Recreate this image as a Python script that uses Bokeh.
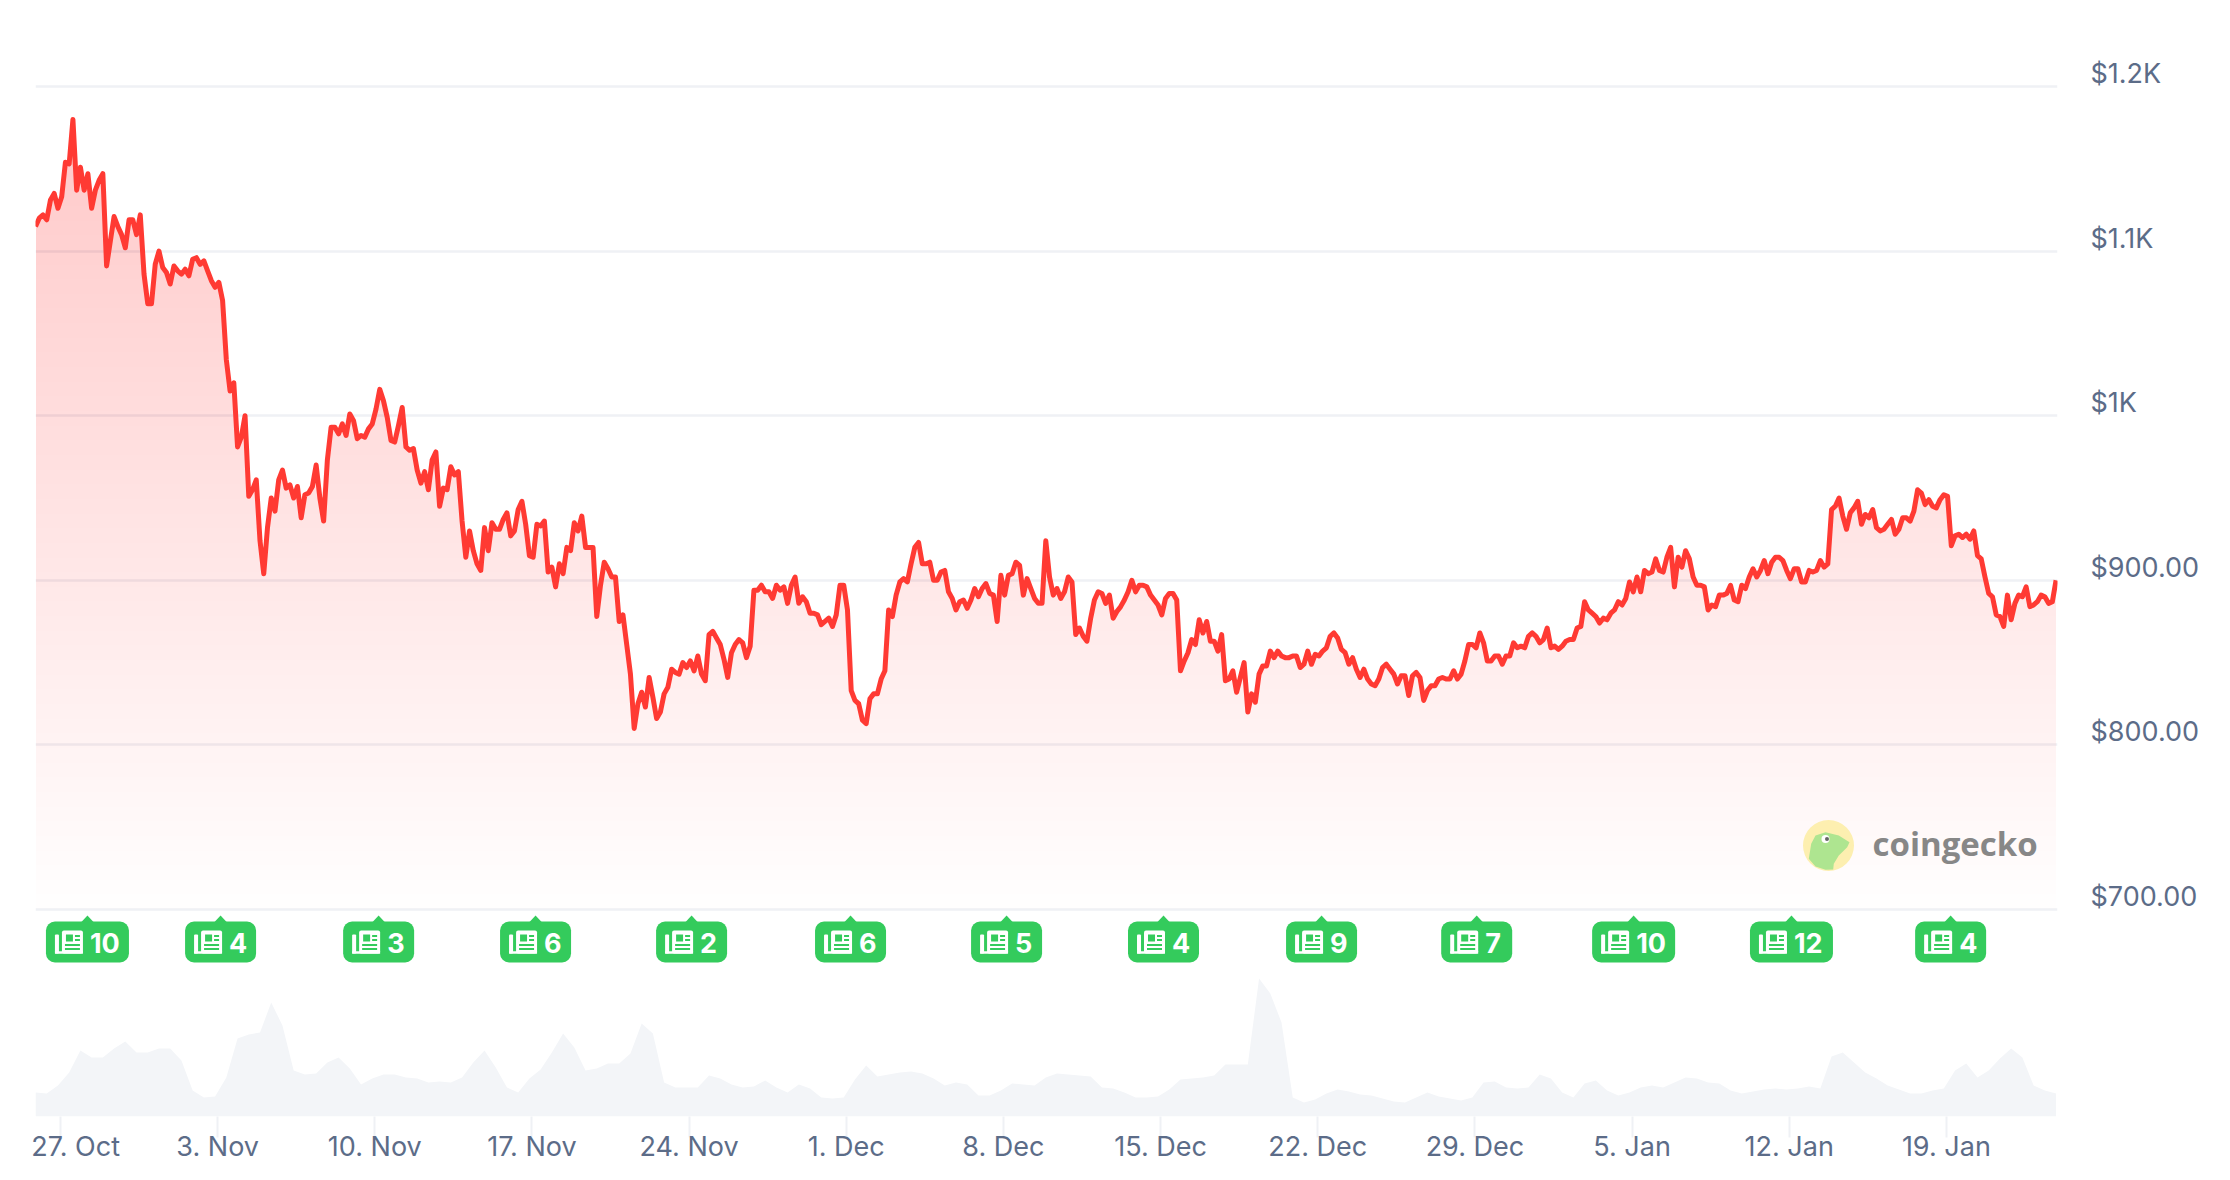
import numpy as np
from bokeh.plotting import figure
from bokeh.models import Range1d, LinearAxis, FixedTicker
from bokeh.core.properties import value
from bokeh.embed import file_html
from bokeh.resources import INLINE

# price in USD, one reading every 4 hours
price_oct_nov_a = [1115,1120,1122,1119,1131,1135,1126,1133,1154,1153,1180,1137,1151,1137,1147,1126,1137,1143,1147,1091,1106,1121,1115,1110,1102,1119,1119,1110,1122,1086,1068,1068,1092,1100,1090,1087,1080,1091,1088,1086,1089,1085,1095,1096,1092,1094,1088,1082,1078,1081,1070,1034,1015,1020,981,987,1000]
price_nov_b = [951,955,961,924,904,932,950,942,961,967,956,958,950,957,938,952,953,957,970,950,936,973,993,993,989,995,988,1001,997,986,988,987,992,995,1004,1016,1009,999,985,984,994,1005,981,979,980,967,959,966,955,973,978,945,956,955,969,964,966,936,914,930,918,910,906,932,918,935,931,931,937,941,927,930,943,948,934,915,914,934,933,936,905,908,896,910,904,920,918,935,930,939,920,920,920,878,897,911,907,902,902,875,879,861,843,810]
price_nov_dec = [825,832,823,841,829,816,820,831,835,846,844,843,850,847,851,845,854,843,839,867,869,865,861,852,841,856,861,864,862,853,860,894,894,897,893,893,889,897,894,896,886,897,902,886,890,887,880,880,879,873,875,877,872,879,897,897,882,833,827,825,815,813,828,831,831,840,845,882,878,891,899,901,899,910,920,923,910,910,911,900,900,905,906,893,889,882,887,888,883,888,895,890,895,898,892,891,875,903,891,903,904,911,909,891,901,895,889,886,886,924,902,891,895,889,893,902,899,867,871,866,863,877,888,893]
price_dec = [892,886,891,877,881,884,888,893,900,893,897,897,896,891,888,885,879,889,892,892,888,845,851,856,864,861,876,868,875,863,863,857,867,839,840,845,832,841,850,820,831,826,843,848,848,857,853,857,854,853,853,854,854,847,849,857,849,855,854,857,859,866,868,865,858,856,849,853,846,841,846,840,837,836,840,847,849,846,843,837,842,842,830,842,844,841,827,833,836,836,840,841,840,840,845,840,843,851,861,861,859,868,862,851,851,854,854,849,854,854,862,859,860,859,866,868,866,862,864,871,859,860,858,860,863,864,864,871]
price_jan = [872,887,882,880,878,874,877,876,880,882,887,885,889,899,893,902,893,906,904,905,913,906,905,914,920,896,914,908,918,913,902,897,897,896,882,885,884,891,891,892,897,888,887,897,895,902,907,902,906,912,904,911,914,914,912,906,901,907,907,899,899,906,905,906,912,908,910,943,945,950,939,931,941,944,948,934,940,938,943,932,930,931,934,937,928,931,938,938,936,942,955,953,946,949,945,944,949,952,951,921,927,928,926,928,925,930,915,913,902,892,890,879,878,872,891,876,886,891,890,896,884,885,887,891,890,886,887,900]

# traded volume in million USD, one reading every 12 hours
volume_a = [24,23,31,44,66,59,59,68,75,64,64,68,68,56,26,19,20,39,78,82,84,114,91,46,42,43,54,59,48,32,38,42,42,39,38,34,35,34,39,54,66,49,29,24,38,47,64,83,69,46,48,53,53,63,93,83,34,29,29,29]
volume_b = [41,38,32,29,30,36,29,24,32,28,19,18,19,37,51,40,42,44,45,43,38,31,34,32,21,21,26,33,32,31,39,43,42,41,40,29,28,24,19,19,20,27,37,38,39,41,52,52,52,138,123,94,19,14,17,23,27,25,22,21,18,15]
volume_c = [14,19,24,20,18,16,19,34,35,29,28,29,42,38,24,19,33,36,26,21,24,29,31,29,34,39,38,34,33,26,23,25,27,28,27,28,30,28,60,64,54,44,38,31,27,23,23,26,28,46,53,39,46,58,68,59,31,26,23]

week_days = [0,7,14,21,28,35,42,49,56,63,70,77,84]
week_labels = ["27. Oct","3. Nov","10. Nov","17. Nov","24. Nov","1. Dec","8. Dec","15. Dec","22. Dec","29. Dec","5. Jan","12. Jan","19. Jan"]
price_ticks = [700,800,900,1000,1100,1200]
price_labels = ["$700.00","$800.00","$900.00","$1K","$1.1K","$1.2K"]
news_days = [1.2,7.13,14.17,21.16,28.11,35.19,42.14,49.13,56.17,63.08,70.07,77.1,84.19]
news_counts = [10,4,3,6,2,6,5,4,9,7,10,12,4]

PX_PER_DAY = 22.45
PX_PER_USD = 1.646
FIRST_DAY = -1.1136
LAST_DAY = 88.95
INK = "#5C6C88"
RED = "#FF3A33"
GREEN = "#34CB5C"
RULE = "#EFF1F5"
FONT = "Inter"
LABEL_PX = "27px"

price = np.array(price_oct_nov_a + price_nov_b + price_nov_dec + price_dec + price_jan, dtype=float)
days = FIRST_DAY + np.arange(len(price)) / 6
volume = np.array(volume_a + volume_b + volume_c, dtype=float)
vol_days = FIRST_DAY + np.arange(len(volume)) / 2

FRAME_W, FRAME_H = 2022, 1068
TOP, BASE = 48, 1116   # page rows of the frame
y0 = 700 - (BASE - 909) / PX_PER_USD
y1 = 700 + (909 - TOP) / PX_PER_USD

p = figure(frame_width=FRAME_W, frame_height=FRAME_H, output_backend="svg", toolbar_location=None,
           x_range=Range1d(FIRST_DAY, LAST_DAY), y_range=Range1d(y0, y1), y_axis_location=None,
           min_border_left=35, min_border_right=165, min_border_top=TOP, min_border_bottom=56,
           background_fill_color="white", border_fill_color="white", outline_line_color=None)

shift = 13 / PX_PER_USD
p.extra_y_ranges = {
    "ylabels": Range1d(y0 - shift, y1 - shift),
    "volume": Range1d(0, FRAME_H),
    "page": Range1d(BASE, TOP),
}
p.extra_x_ranges = {"page": Range1d(35, 2057)}

# axes
p.xgrid.visible = False
p.ygrid.ticker = FixedTicker(ticks=price_ticks)
p.ygrid.grid_line_color = RULE
p.ygrid.grid_line_width = 2.5

# the first label sits fully inside the plot, so it is pushed right with no-break spaces
overrides = dict(zip(week_days, week_labels))
overrides[week_days[0]] = "\u00A0" * 4 + week_labels[0]

ax = p.xaxis[0]
ax.ticker = FixedTicker(ticks=week_days)
ax.major_label_overrides = overrides
ax.axis_line_color = None
ax.major_tick_in = 0
ax.major_tick_out = 21
ax.major_tick_line_color = RULE
ax.major_tick_line_width = 2
ax.minor_tick_line_color = None
ax.major_label_standoff = -8
ax.major_label_text_font = FONT
ax.major_label_text_font_size = LABEL_PX
ax.major_label_text_color = INK

yax = LinearAxis(y_range_name="ylabels", ticker=FixedTicker(ticks=price_ticks),
                 major_label_overrides=dict(zip(price_ticks, price_labels)),
                 axis_line_color=None, major_tick_line_color=None, minor_tick_line_color=None,
                 major_tick_in=0, major_tick_out=0, major_label_standoff=33,
                 major_label_text_font=FONT, major_label_text_font_size=LABEL_PX, major_label_text_color=INK)
p.add_layout(yax, "right")

# volume
p.varea(x=vol_days, y1=np.zeros_like(volume), y2=volume, y_range_name="volume", fill_color="#F3F5F8")

# area under the price: stacked translucent layers make the vertical gradient
levels = np.arange(700, 1190, 8.9)
for lv in levels:
    p.varea(x=days, y1=np.full_like(price, lv), y2=np.maximum(price, lv),
            fill_color="#FF3832", fill_alpha=1 / 255)

p.line(days, price, line_color=RED, line_width=5, line_join="round")

# news badges
news_days_a = np.array(news_days)
widths = np.array([83 if c >= 10 else 71 for c in news_counts])
lefts = news_days_a - widths / 2 / PX_PER_DAY
def off(px):
    return lefts + px / PX_PER_DAY
n = len(news_days)
p.rect(news_days_a, [941.5] * n, width=widths, height=41, width_units="screen", height_units="screen",
       y_range_name="page", fill_color=GREEN, line_color=None, border_radius=9)
p.patches([[d - 6.5 / PX_PER_DAY, d, d + 6.5 / PX_PER_DAY] for d in news_days],
          [[922, 915, 922] for _ in news_days], y_range_name="page", fill_color=GREEN, line_color=None)
def icon_rect(cx, cy, w, h, color, **kw):
    p.rect(off(cx), [cy] * n, width=w, height=h, width_units="screen", height_units="screen",
           y_range_name="page", fill_color=color, line_color=None, **kw)
icon_rect(26.5, 941.5, 21, 23, "white", border_radius=2)
icon_rect(11, 943.5, 4, 19, "white", border_radius=1)
icon_rect(23, 952, 28, 2.5, "white")
icon_rect(23.5, 937.5, 7, 7, GREEN)
icon_rect(31.5, 935.5, 5, 2, GREEN)
icon_rect(31.5, 939.5, 5, 2, GREEN)
icon_rect(26.5, 944.5, 15, 2, GREEN)
icon_rect(26.5, 948.5, 15, 2, GREEN)
p.text(off(44), [942] * n, text=[str(c) for c in news_counts], y_range_name="page",
       text_font=value(FONT), text_font_style="bold", text_font_size="27px", text_color="white",
       text_align="left", text_baseline="middle")

# logo
p.scatter([1828], [845], size=51, x_range_name="page", y_range_name="page", fill_color="#FDEFB0", line_color=None)
p.patch([1808.3, 1810.7, 1815, 1825, 1838.3, 1849, 1846.7, 1838.3, 1833.3, 1832.7, 1825, 1815],
        [858.3, 843.3, 835, 831.7, 835, 841.7, 846.7, 855, 863.3, 869, 869.3, 866],
        x_range_name="page", y_range_name="page", fill_color="#AEE590", line_color=None)
p.scatter([1825], [838.5], size=8, x_range_name="page", y_range_name="page", fill_color="white", line_color=None)
p.scatter([1826.5], [838.5], size=4, x_range_name="page", y_range_name="page", fill_color="#666666", line_color=None)
p.text([1872], [843], text=["coingecko"], x_range_name="page", y_range_name="page",
       text_font=value("Open Sans"), text_font_style="bold", text_font_size="33px", text_color="#878787",
       text_align="left", text_baseline="middle")

open("out.html", "w").write(file_html(p, INLINE))
